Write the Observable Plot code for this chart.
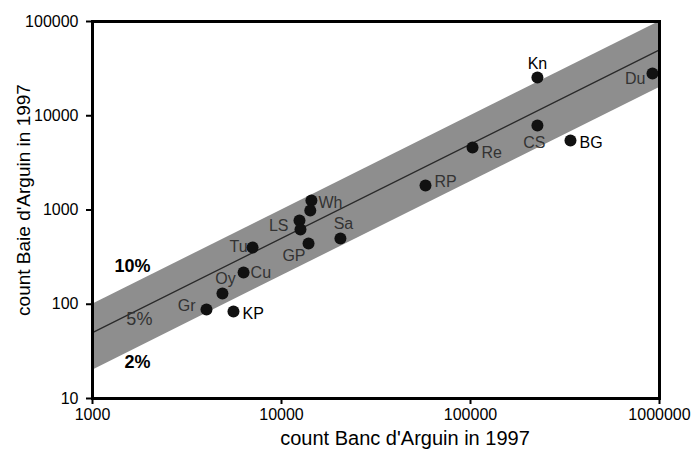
<!DOCTYPE html>
<html><head><meta charset="utf-8">
<script src="https://cdn.jsdelivr.net/npm/d3@7"></script>
<script src="https://cdn.jsdelivr.net/npm/@observablehq/plot@0.6"></script>
<style>html,body{margin:0;padding:0;background:#fff}svg{display:block}</style>
</head><body><div id="chart"></div>
<script>
// Data
const species    = ["Kn","Du","CS","BG","Re","RP","Wh","Wh","LS","LS","GP","Sa","Tu","Cu","Oy","Gr","KP"];
const bancCounts = [226000, 918000, 226000, 338000, 102500, 57800, 14400, 14200, 12450, 12600, 13900, 20500, 7030, 6300, 4870, 4010, 5570];
const baieCounts = [25500, 28000, 7880, 5460, 4600, 1820, 1260, 988, 774, 621, 441, 499, 400, 217, 130, 88, 84];

const bandX    = [1000, 1000000];
const bandLow  = [20, 20000];     // 2%
const bandMid  = [50, 50000];     // 5%
const bandHigh = [100, 100000];   // 10%

const pctText = ["10%", "5%", "2%"];
const pctX    = [1630, 1770, 1730];
const pctY    = [251, 68.9, 24.1];

const xTicks = [1000, 10000, 100000, 1000000];
const yTicks = [10, 100, 1000, 10000, 100000];
const xTitle = "count Banc d'Arguin in 1997";
const yTitle = "count Baie d'Arguin in 1997";

// Label placement (style)
const dark = "#000", grey = "#333";
const labelStyle = {
  Kn: {dx: 0,   dy: -14, a: "middle", c: dark},
  Du: {dx: -7,  dy: 5,   a: "end",    c: grey},
  CS: {dx: -3,  dy: 17,  a: "middle", c: grey},
  BG: {dx: 9,   dy: 2,   a: "start",  c: dark},
  Re: {dx: 9,   dy: 5,   a: "start",  c: grey},
  RP: {dx: 9,   dy: -4,  a: "start",  c: grey},
  Wh: {dx: 7,   dy: 2,   a: "start",  c: grey},
  LS: {dx: -11, dy: 5,   a: "end",    c: grey},
  GP: {dx: -3,  dy: 12,  a: "end",    c: grey},
  Sa: {dx: 3,   dy: -15, a: "middle", c: grey},
  Tu: {dx: -5,  dy: -1,  a: "end",    c: grey},
  Cu: {dx: 7,   dy: 0,   a: "start",  c: grey},
  Oy: {dx: 3,   dy: -15, a: "middle", c: grey},
  Gr: {dx: -11, dy: -4,  a: "end",    c: grey},
  KP: {dx: 9,   dy: 2,   a: "start",  c: dark}
};
const pctStyle = [
  {fill: "#000", fontWeight: "bold"},
  {fill: "#333", fontWeight: "normal"},
  {fill: "#000", fontWeight: "bold"}
];

const idx = d3.range(species.length);
const labelMarks = [];
const seen = new Set();
idx.forEach(i => {
  const s = species[i];
  if (seen.has(s)) return;
  seen.add(s);
  const st = labelStyle[s];
  labelMarks.push(Plot.text([i], {
    x: j => bancCounts[j], y: j => baieCounts[j], text: j => species[j],
    dx: st.dx, dy: st.dy, textAnchor: st.a, fill: st.c, fontSize: 16
  }));
});
const pctMarks = pctText.map((t, i) => Plot.text([i], {
  x: j => pctX[j], y: j => pctY[j], text: j => pctText[j],
  fontSize: 18, ...pctStyle[i]
}));

const chart = Plot.plot({
  width: 692, height: 454,
  marginLeft: 92, marginRight: 33, marginTop: 21, marginBottom: 56,
  style: {fontFamily: "'Liberation Sans', Arial, Helvetica, sans-serif", background: "#fff", color: "#000", overflow: "visible"},
  x: {type: "log", domain: [1000, 1000000]},
  y: {type: "log", domain: [10, 100000]},
  marks: [
    Plot.areaY(bandX, {x: bandX, y1: bandLow, y2: bandHigh, fill: "#8e8e8e"}),
    Plot.line(bandX, {x: bandX, y: bandMid, stroke: "#2a2a2a", strokeWidth: 1.3}),
    ...pctMarks,
    ...labelMarks,
    Plot.dot(idx, {x: i => bancCounts[i], y: i => baieCounts[i], r: 6, fill: "#111", stroke: "none"}),
    Plot.axisX(xTicks, {tickSize: 6, tickPadding: 4, tickFormat: d => String(d), fontSize: 16, strokeWidth: 2, label: null}),
    Plot.axisY(yTicks, {tickSize: 6, tickPadding: 8, tickFormat: d => String(d), fontSize: 16, strokeWidth: 2, label: null}),
    Plot.frame({stroke: "#000", strokeWidth: 3}),
    Plot.text([xTitle], {frameAnchor: "bottom", textAnchor: "middle", lineAnchor: "middle", dx: 29, dy: 40, fontSize: 20, text: d => d}),
    Plot.text([yTitle], {frameAnchor: "left", textAnchor: "middle", lineAnchor: "middle", dx: -69, dy: -10, rotate: -90, fontSize: 19, text: d => d})
  ]
});
document.getElementById("chart").appendChild(chart);
</script>
</body></html>
